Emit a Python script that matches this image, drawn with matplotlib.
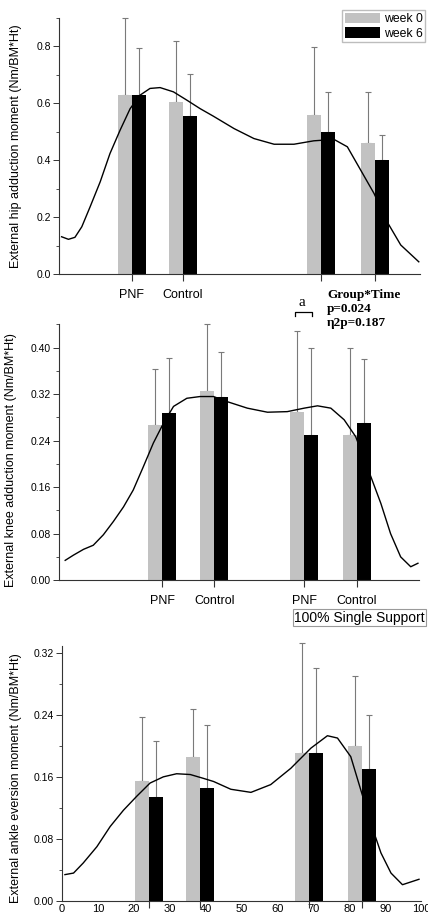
import numpy as np
import matplotlib
matplotlib.use('Agg')
from matplotlib import pyplot as plt
from matplotlib.patches import Patch
from matplotlib.ticker import MultipleLocator, FormatStrFormatter, FixedLocator

plt.rcParams['font.family'] = ['Liberation Sans', 'DejaVu Sans']

# bar data: order per panel = PNF, Control, PNF, Control
hip_x = [20.2, 34.3, 72.6, 87.5]
hip_w0 = [0.628, 0.604, 0.558, 0.460]
hip_w0_sd = [0.898, 0.818, 0.797, 0.640]
hip_w6 = [0.628, 0.555, 0.498, 0.400]
hip_w6_sd = [0.793, 0.702, 0.640, 0.488]
hip_labels = ['PNF', 'Control', '', '']

knee_x = [28.6, 43.1, 68.1, 82.8]
knee_w0 = [0.267, 0.326, 0.290, 0.250]
knee_w0_sd = [0.364, 0.441, 0.429, 0.400]
knee_w6 = [0.288, 0.316, 0.250, 0.271]
knee_w6_sd = [0.383, 0.393, 0.400, 0.381]
knee_labels = ['PNF', 'Control', 'PNF', 'Control']

ankle_x = [24.2, 38.4, 68.8, 83.6]
ankle_w0 = [0.155, 0.186, 0.191, 0.200]
ankle_w0_sd = [0.237, 0.248, 0.332, 0.290]
ankle_w6 = [0.134, 0.145, 0.191, 0.170]
ankle_w6_sd = [0.206, 0.227, 0.300, 0.240]

# moment curves over % single support
hip_cx = [0.7, 2.6, 4.4, 6.3, 8.6, 11.4, 14.1, 16.9, 19.7, 22.4, 25.2, 28.0, 31.7, 35.4, 39.1, 42.7,
          48.5, 54.0, 59.6, 65.1, 70.6, 76.2, 79.9, 83.6, 87.3, 90.9, 94.7, 99.7]
hip_cy = [0.131, 0.122, 0.129, 0.166, 0.236, 0.324, 0.423, 0.505, 0.581, 0.628, 0.652, 0.655, 0.640,
          0.611, 0.581, 0.555, 0.511, 0.476, 0.456, 0.456, 0.468, 0.473, 0.447, 0.365, 0.283, 0.184,
          0.102, 0.043]

knee_cx = [1.7, 4.0, 6.8, 9.5, 12.3, 15.1, 17.9, 20.6, 23.4, 26.2, 29.0, 31.8, 35.5, 39.2, 42.9,
           46.8, 52.3, 57.9, 63.4, 68.1, 71.8, 75.5, 79.2, 82.4, 85.6, 89.4, 92.1, 94.9, 97.7, 99.7]
knee_cy = [0.034, 0.043, 0.053, 0.060, 0.078, 0.101, 0.126, 0.155, 0.195, 0.236, 0.270, 0.299, 0.313,
           0.316, 0.316, 0.307, 0.296, 0.289, 0.290, 0.296, 0.300, 0.296, 0.276, 0.247, 0.195, 0.132,
           0.080, 0.040, 0.023, 0.029]

ankle_cx = [0.8, 3.2, 5.9, 9.7, 13.4, 17.1, 20.8, 24.5, 28.2, 31.9, 35.7, 39.4, 42.2, 47.0, 52.6,
            58.1, 63.7, 69.3, 73.9, 76.7, 80.4, 83.2, 86.0, 88.8, 91.6, 94.8, 99.4]
ankle_cy = [0.034, 0.036, 0.049, 0.070, 0.096, 0.117, 0.135, 0.152, 0.160, 0.164, 0.163, 0.158, 0.154,
            0.144, 0.140, 0.150, 0.171, 0.197, 0.213, 0.210, 0.186, 0.143, 0.100, 0.062, 0.036, 0.021,
            0.028]

gray = '#c2c2c2'
errc = '#7a7a7a'
bw = 3.9

fig = plt.figure(figsize=(4.28, 9.15), dpi=100)
ax1 = fig.add_axes([0.138, 0.7005, 0.843, 0.280])
ax2 = fig.add_axes([0.138, 0.366, 0.841, 0.280])
ax3 = fig.add_axes([0.145, 0.0153, 0.839, 0.279])


def panel(ax, xs, w0, w0sd, w6, w6sd, cx, cy, ymax, step, fmt, ylabel):
    xs = np.array(xs)
    w0 = np.array(w0); w6 = np.array(w6)
    ax.bar(xs - bw / 2, w0, bw, color=gray, zorder=2)
    ax.bar(xs + bw / 2, w6, bw, color='black', zorder=2)
    for xx, v, sd in ((xs - bw / 2, w0, w0sd), (xs + bw / 2, w6, w6sd)):
        eb = ax.errorbar(xx, v, yerr=[np.zeros(4), np.array(sd) - v], fmt='none',
                         ecolor=errc, elinewidth=0.8, capsize=2.2, capthick=0.8, zorder=1)
        for a in eb.lines[1] + eb.lines[2]:
            a.set_clip_on(False)
    ax.plot(cx, cy, color='black', lw=1.0, zorder=3, solid_joinstyle='round')
    ax.set_xlim(0, 100)
    ax.set_ylim(0, ymax)
    for s in ['top', 'right']:
        ax.spines[s].set_visible(False)
    for s in ['left', 'bottom']:
        ax.spines[s].set_color('#333333')
        ax.spines[s].set_linewidth(0.8)
    ax.yaxis.set_major_locator(MultipleLocator(step))
    ax.yaxis.set_minor_locator(MultipleLocator(step / 2))
    ax.yaxis.set_major_formatter(FormatStrFormatter(fmt))
    ax.tick_params(axis='y', which='major', length=4, width=0.7, labelsize=7.5, colors='#333333',
                   labelcolor='black', pad=2)
    ax.tick_params(axis='y', which='minor', length=2.5, width=0.6, colors='#333333')
    ax.set_ylabel(ylabel, fontsize=9)


panel(ax1, hip_x, hip_w0, hip_w0_sd, hip_w6, hip_w6_sd, hip_cx, hip_cy, 0.9, 0.2, '%.1f',
      'External hip adduction moment (Nm/BM*Ht)')
panel(ax2, knee_x, knee_w0, knee_w0_sd, knee_w6, knee_w6_sd, knee_cx, knee_cy, 0.441, 0.08, '%.2f',
      'External knee adduction moment (Nm/BM*Ht)')
panel(ax3, ankle_x, ankle_w0, ankle_w0_sd, ankle_w6, ankle_w6_sd, ankle_cx, ankle_cy, 0.329, 0.08, '%.2f',
      'External ankle eversion moment (Nm/BM*Ht)')

ax1.set_xticks(hip_x)
ax1.set_xticklabels(hip_labels)
ax2.set_xticks(knee_x)
ax2.set_xticklabels(knee_labels)
for ax in (ax1, ax2):
    ax.tick_params(axis='x', length=5, width=0.8, labelsize=9, pad=6, colors='#333333', labelcolor='black')

ax3.set_xticks(np.arange(0, 101, 10))
ax3.xaxis.set_minor_locator(FixedLocator(ankle_x))
ax3.tick_params(axis='x', which='major', length=0, labelsize=8, pad=2)
ax3.tick_params(axis='x', which='minor', length=5, width=0.8, colors='#333333')

ax1.yaxis.set_label_coords(-0.102, 0.5)
ax2.yaxis.set_label_coords(-0.117, 0.47)
ax3.yaxis.set_label_coords(-0.111, 0.48)

fig.legend(handles=[Patch(facecolor=gray, label='week 0'), Patch(facecolor='black', label='week 6')],
           loc='upper right', bbox_to_anchor=(0.993, 0.989), fontsize=8.8, frameon=True, fancybox=False,
           edgecolor='#bdbdbd', framealpha=1, borderpad=0.2, labelspacing=0.15, handlelength=2.9,
           handleheight=1.0, handletextpad=0.3, borderaxespad=0)

# significance marks in the knee panel
ax2.plot([65.6, 65.6, 70.3, 70.3], [0.455, 0.462, 0.462, 0.455], color='black', lw=0.9, clip_on=False)
serif = ['Liberation Serif', 'DejaVu Serif']
fig.text(0.706, 0.669, 'a', family=serif, fontsize=11, ha='center', va='center')
fig.text(0.764, 0.678, 'Group*Time', family=serif, fontweight='bold', fontsize=9.5, va='center')
fig.text(0.764, 0.662, 'p=0.024', family=serif, fontweight='bold', fontsize=9.5, va='center')
fig.text(0.764, 0.647, 'η2p=0.187', family=serif, fontweight='bold', fontsize=9.5, va='center')

fig.text(0.993, 0.325, '100% Single Support', fontsize=10, ha='right', va='center',
         bbox=dict(boxstyle='square,pad=0.1', facecolor='white', edgecolor='#9a9a9a', lw=0.8))

fig.savefig('out.png', dpi=100)
